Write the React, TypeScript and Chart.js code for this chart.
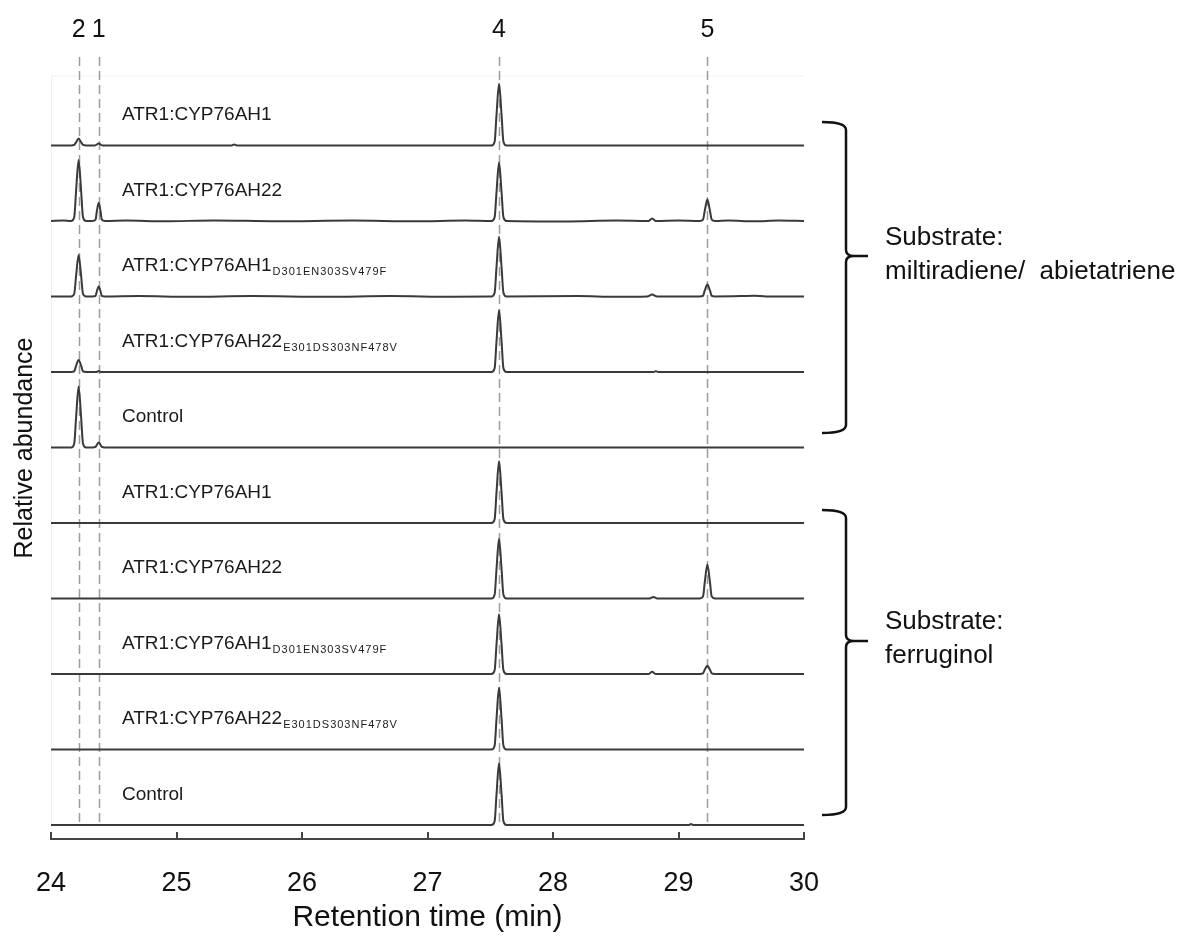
import React, { useEffect, useRef } from "react";
import { Chart, registerables } from "chart.js";

Chart.register(...registerables);

const FONT = "'Liberation Sans', Arial, sans-serif";

const xTicks = [24, 25, 26, 27, 28, 29, 30];
const peakLabels = ["2", "1", "4", "5"];
const peakTimes = [24.22, 24.38, 27.57, 29.23];

const traceNames = [
  "ATR1:CYP76AH1",
  "ATR1:CYP76AH22",
  "ATR1:CYP76AH1",
  "ATR1:CYP76AH22",
  "Control",
  "ATR1:CYP76AH1",
  "ATR1:CYP76AH22",
  "ATR1:CYP76AH1",
  "ATR1:CYP76AH22",
  "Control",
];
const traceSubs = [
  "",
  "",
  "D301EN303SV479F",
  "E301DS303NF478V",
  "",
  "",
  "",
  "D301EN303SV479F",
  "E301DS303NF478V",
  "",
];

const groupTexts = [
  ["Substrate:", "miltiradiene/  abietatriene"],
  ["Substrate:", "ferruginol"],
];

// [retention time (min), relative abundance]
const milAH1: number[][] = [
  [24, 0], [24.16, 0], [24.185, 1], [24.2, 5], [24.22, 11], [24.24, 5], [24.255, 1], [24.28, 0],
  [24.35, 0], [24.38, 3], [24.41, 0], [25.44, 0], [25.46, 1.5], [25.48, 0],
  [27.51, 0], [27.535, 6], [27.55, 49], [27.57, 98], [27.59, 49], [27.605, 6], [27.63, 0], [30, 0],
];
const milAH22: number[][] = [
  [24, 0], [24.1, 0.6], [24.16, 0], [24.185, 6], [24.2, 48], [24.22, 97], [24.24, 48], [24.255, 6], [24.28, 0],
  [24.33, 0], [24.355, 2], [24.365, 15], [24.38, 29], [24.395, 15], [24.405, 2], [24.43, 0],
  [24.6, 0.8], [24.9, -0.6], [25.3, 0.9], [25.8, -0.5], [26.4, 0.7], [26.9, -0.6], [27.3, 0.8],
  [27.51, 0], [27.535, 6], [27.55, 46], [27.57, 93], [27.59, 46], [27.605, 6], [27.63, 0],
  [28.1, -0.7], [28.5, 0.6], [28.76, 0], [28.79, 4], [28.82, 0], [29.0, 0.7],
  [29.17, 0], [29.195, 2], [29.21, 17], [29.23, 34], [29.25, 17], [29.265, 2], [29.29, 0],
  [29.4, 0.8], [29.6, -0.6], [29.8, 0.7], [30, 0],
];
const milAH1mut: number[][] = [
  [24, 0], [24.16, 0], [24.185, 4], [24.2, 33], [24.22, 66], [24.24, 33], [24.255, 4], [24.28, 0],
  [24.33, 0], [24.355, 1], [24.365, 8], [24.38, 16], [24.395, 8], [24.405, 1], [24.43, 0],
  [24.7, 0.7], [25.1, -0.5], [25.6, 0.8], [26.2, -0.6], [26.7, 0.6], [27.2, -0.5],
  [27.51, 0], [27.535, 6], [27.55, 47], [27.57, 95], [27.59, 47], [27.605, 6], [27.63, 0],
  [28.2, 0.6], [28.5, -0.5], [28.75, 0], [28.79, 3], [28.83, 0],
  [29.17, 0], [29.195, 1], [29.21, 10], [29.23, 19], [29.25, 10], [29.265, 1], [29.29, 0],
  [29.5, 0.6], [29.6, 1.2], [29.7, 0], [30, 0],
];
const milAH22mut: number[][] = [
  [24, 0], [24.16, 0], [24.185, 1], [24.2, 10], [24.22, 19], [24.24, 10], [24.255, 1], [24.28, 0],
  [24.36, 0], [24.38, 1.5], [24.4, 0],
  [27.51, 0], [27.535, 6], [27.55, 49], [27.57, 98], [27.59, 49], [27.605, 6], [27.63, 0],
  [28.8, 0], [28.82, 1], [28.84, 0], [30, 0],
];
const milControl: number[][] = [
  [24, 0], [24.16, 0], [24.185, 6], [24.2, 48], [24.22, 97], [24.24, 48], [24.255, 6], [24.28, 0],
  [24.33, 0], [24.355, 1], [24.365, 4], [24.38, 8], [24.395, 4], [24.405, 1], [24.43, 0], [30, 0],
];
const ferAH1: number[][] = [
  [24, 0], [27.51, 0], [27.535, 6], [27.55, 49], [27.57, 98], [27.59, 49], [27.605, 6], [27.63, 0], [30, 0],
];
const ferAH22: number[][] = [
  [24, 0], [27.51, 0], [27.535, 6], [27.55, 47], [27.57, 95], [27.59, 47], [27.605, 6], [27.63, 0],
  [28.77, 0], [28.8, 2.5], [28.83, 0],
  [29.17, 0], [29.195, 3], [29.21, 27], [29.23, 54], [29.25, 27], [29.265, 3], [29.29, 0], [30, 0],
];
const ferAH1mut: number[][] = [
  [24, 0], [27.51, 0], [27.535, 6], [27.55, 47], [27.57, 95], [27.59, 47], [27.605, 6], [27.63, 0],
  [28.76, 0], [28.79, 3.5], [28.82, 0],
  [29.17, 0], [29.195, 1], [29.21, 7], [29.23, 13], [29.25, 7], [29.265, 1], [29.29, 0], [30, 0],
];
const ferAH22mut: number[][] = [
  [24, 0], [27.51, 0], [27.535, 6], [27.55, 49], [27.57, 98], [27.59, 49], [27.605, 6], [27.63, 0], [30, 0],
];
const ferControl: number[][] = [
  [24, 0], [27.51, 0], [27.535, 6], [27.55, 49], [27.57, 98], [27.59, 49], [27.605, 6], [27.63, 0],
  [29.08, 0], [29.1, 1.5], [29.12, 0], [30, 0],
];

const traces = [
  milAH1, milAH22, milAH1mut, milAH22mut, milControl,
  ferAH1, ferAH22, ferAH1mut, ferAH22mut, ferControl,
];

const LANE = 120;

const decorPlugin = {
  id: "decor",
  beforeDatasetsDraw(chart: any) {
    const { ctx, chartArea, scales } = chart;
    const x = scales.x;
    ctx.save();
    // faint frame
    ctx.strokeStyle = "#f0f0f0";
    ctx.lineWidth = 1;
    ctx.beginPath();
    ctx.moveTo(chartArea.left + 0.5, 76);
    ctx.lineTo(chartArea.right, 76);
    ctx.moveTo(chartArea.left + 0.5, 76);
    ctx.lineTo(chartArea.left + 0.5, chartArea.bottom - 14);
    ctx.stroke();
    // dashed reference lines
    ctx.strokeStyle = "#9c9c9c";
    ctx.lineWidth = 1.5;
    ctx.setLineDash([9, 5]);
    peakTimes.forEach((t) => {
      const px = Math.round(x.getPixelForValue(t)) + 0.5;
      ctx.beginPath();
      ctx.moveTo(px, 57);
      ctx.lineTo(px, 827);
      ctx.stroke();
    });
    ctx.restore();
  },
  afterDraw(chart: any) {
    const { ctx, chartArea, scales } = chart;
    const x = scales.x;
    const y = scales.y;
    ctx.save();
    // upward tick marks on x axis
    ctx.strokeStyle = "#444";
    ctx.lineWidth = 2;
    xTicks.forEach((v) => {
      const px = Math.round(x.getPixelForValue(v));
      ctx.beginPath();
      ctx.moveTo(px, chartArea.bottom);
      ctx.lineTo(px, chartArea.bottom - 7);
      ctx.stroke();
    });
    ctx.fillStyle = "#111";
    // peak numbers
    ctx.font = `25px ${FONT}`;
    ctx.textAlign = "center";
    ctx.textBaseline = "middle";
    peakLabels.forEach((lab, i) => {
      ctx.fillText(lab, x.getPixelForValue(peakTimes[i]), 30);
    });
    // trace labels
    ctx.textAlign = "left";
    ctx.textBaseline = "alphabetic";
    traceNames.forEach((name, k) => {
      const base = y.getPixelForValue((9 - k) * LANE) - 25;
      ctx.font = `19px ${FONT}`;
      ctx.fillStyle = "#1a1a1a";
      ctx.fillText(name, 122, base);
      const w = ctx.measureText(name).width;
      if (traceSubs[k]) {
        ctx.font = `11px ${FONT}`;
        (ctx as any).letterSpacing = "1px";
        ctx.fillText(traceSubs[k], 122 + w + 1, base + 4);
        (ctx as any).letterSpacing = "0px";
      }
    });
    // braces
    const brace = (top: number, bottom: number, tip: number) => {
      const x0 = 846;
      const xl = 822;
      const xt = 868;
      ctx.beginPath();
      ctx.moveTo(xl, top);
      ctx.quadraticCurveTo(x0, top, x0, top + 8);
      ctx.lineTo(x0, tip - 6);
      ctx.quadraticCurveTo(x0, tip, x0 + 8, tip);
      ctx.lineTo(xt, tip);
      ctx.moveTo(x0 + 8, tip);
      ctx.quadraticCurveTo(x0, tip, x0, tip + 6);
      ctx.lineTo(x0, bottom - 8);
      ctx.quadraticCurveTo(x0, bottom, xl, bottom);
      ctx.stroke();
    };
    ctx.strokeStyle = "#111";
    ctx.lineWidth = 2.5;
    ctx.setLineDash([]);
    brace(122, 433, 256);
    brace(510, 815, 641);
    // substrate texts
    ctx.fillStyle = "#111";
    ctx.font = `26px ${FONT}`;
    ctx.textBaseline = "middle";
    ctx.fillText(groupTexts[0][0], 885, 238);
    ctx.fillText(groupTexts[0][1], 885, 272);
    ctx.fillText(groupTexts[1][0], 885, 622);
    ctx.fillText(groupTexts[1][1], 885, 656);
    // y axis title
    ctx.save();
    ctx.translate(25, 448);
    ctx.rotate(-Math.PI / 2);
    ctx.textAlign = "center";
    ctx.textBaseline = "middle";
    ctx.font = `25px ${FONT}`;
    ctx.fillText("Relative abundance", 0, 0);
    ctx.restore();
    ctx.restore();
  },
};

export default function App() {
  const ref = useRef<HTMLCanvasElement | null>(null);
  useEffect(() => {
    document.body.style.margin = "0";
    const canvas = ref.current;
    if (!canvas) return;
    const datasets = traces.map((pts, k) => ({
      label: traceNames[k] + traceSubs[k],
      data: pts.map(([t, v]) => ({ x: t, y: v + (9 - k) * LANE })),
      borderColor: "#3a3a3a",
      borderWidth: 2,
      pointRadius: 0,
      fill: false,
      cubicInterpolationMode: "monotone" as const,
    }));
    const chart = new Chart(canvas, {
      type: "line",
      data: { datasets },
      options: {
        animation: false,
        responsive: false,
        maintainAspectRatio: false,
        layout: { padding: { left: 51, right: 380, top: 57, bottom: 0 } },
        plugins: { legend: { display: false }, tooltip: { enabled: false } },
        scales: {
          x: {
            type: "linear",
            min: 24,
            max: 30,
            position: "bottom",
            afterFit: (s: any) => {
              s.height = 99;
            },
            afterBuildTicks: (s: any) => {
              s.ticks = xTicks.map((v) => ({ value: v }));
            },
            grid: { display: false, drawTicks: false },
            border: { display: true, color: "#444", width: 2 },
            ticks: {
              padding: 28,
              autoSkip: false,
              maxRotation: 0,
              color: "#111",
              font: { family: FONT, size: 27 },
            },
            title: {
              display: true,
              text: "Retention time (min)",
              color: "#111",
              font: { family: FONT, size: 30 },
              padding: { top: 0, bottom: 2 },
            },
          },
          y: { display: false, min: -22.25, max: 1220.6 },
        },
      },
      plugins: [decorPlugin],
    });
    return () => chart.destroy();
  }, []);
  return (
    <div style={{ width: 1184, height: 938 }}>
      <canvas ref={ref} width={1184} height={938} style={{ display: "block", width: 1184, height: 938 }} />
    </div>
  );
}
